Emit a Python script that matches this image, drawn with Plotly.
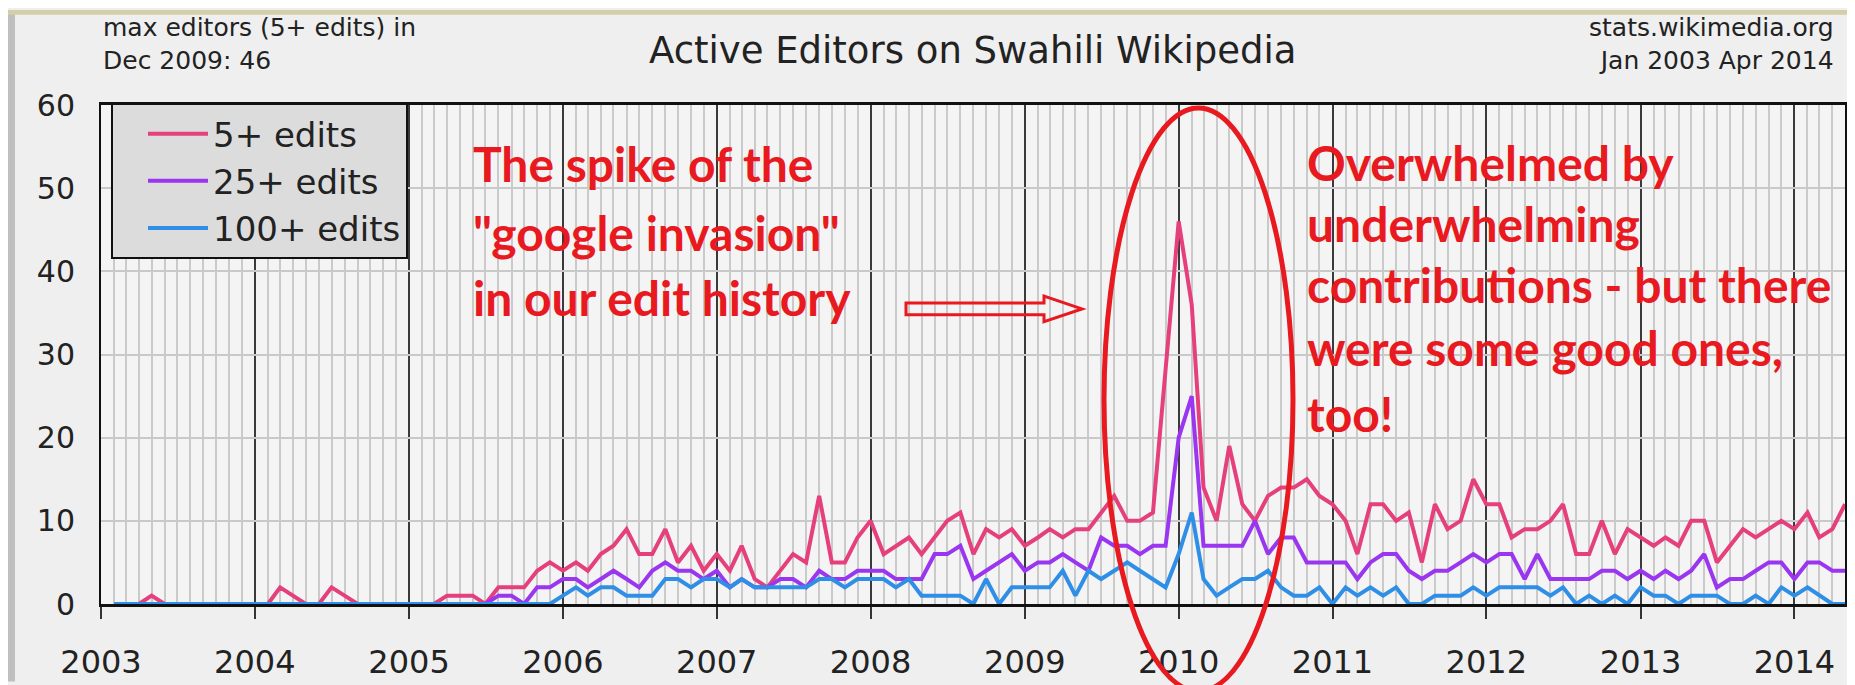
import pandas as pd
import plotly.graph_objects as go

# ---------------- data (monthly, Jan 2003 .. Apr 2014) ----------------
start_month = "2003-01-01"
n_months = 136
year_ticks = list(range(2003, 2015))

editors_5 = [
    0, 0, 0, 1, 0, 0, 0, 0, 0, 0, 0, 0,          # 2003
    0, 2, 1, 0, 0, 2, 1, 0, 0, 0, 0, 0,          # 2004
    0, 0, 1, 1, 1, 0, 2, 2, 2, 4, 5, 4,          # 2005
    5, 4, 6, 7, 9, 6, 6, 9, 5, 7, 4, 6,          # 2006
    4, 7, 3, 2, 4, 6, 5, 13, 5, 5, 8, 10,        # 2007
    6, 7, 8, 6, 8, 10, 11, 6, 9, 8, 9, 7,        # 2008
    8, 9, 8, 9, 9, 11, 13, 10, 10, 11, 28, 46,   # 2009
    36, 14, 10, 19, 12, 10, 13, 14, 14, 15, 13, 12,  # 2010
    10, 6, 12, 12, 10, 11, 5, 12, 9, 10, 15, 12,  # 2011
    12, 8, 9, 9, 10, 12, 6, 6, 10, 6, 9, 8,      # 2012
    7, 8, 7, 10, 10, 5, 7, 9, 8, 9, 10, 9,       # 2013
    11, 8, 9, 12,                                # 2014
]
editors_25 = [
    0, 0, 0, 0, 0, 0, 0, 0, 0, 0, 0, 0,
    0, 0, 0, 0, 0, 0, 0, 0, 0, 0, 0, 0,
    0, 0, 0, 0, 0, 0, 1, 1, 0, 2, 2, 3,
    3, 2, 3, 4, 3, 2, 4, 5, 4, 4, 3, 4,
    2, 3, 2, 2, 3, 3, 2, 4, 3, 3, 4, 4,
    4, 3, 3, 3, 6, 6, 7, 3, 4, 5, 6, 4,
    5, 5, 6, 5, 4, 8, 7, 7, 6, 7, 7, 20,
    25, 7, 7, 7, 7, 10, 6, 8, 8, 5, 5, 5,
    5, 3, 5, 6, 6, 4, 3, 4, 4, 5, 6, 5,
    6, 6, 3, 6, 3, 3, 3, 3, 4, 4, 3, 4,
    3, 4, 3, 4, 6, 2, 3, 3, 4, 5, 5, 3,
    5, 5, 4, 4,
]
editors_100 = [
    0, 0, 0, 0, 0, 0, 0, 0, 0, 0, 0, 0,
    0, 0, 0, 0, 0, 0, 0, 0, 0, 0, 0, 0,
    0, 0, 0, 0, 0, 0, 0, 0, 0, 0, 0, 1,
    2, 1, 2, 2, 1, 1, 1, 3, 3, 2, 3, 3,
    2, 3, 2, 2, 2, 2, 2, 3, 3, 2, 3, 3,
    3, 2, 3, 1, 1, 1, 1, 0, 3, 0, 2, 2,
    2, 2, 4, 1, 4, 3, 4, 5, 4, 3, 2, 6,
    11, 3, 1, 2, 3, 3, 4, 2, 1, 1, 2, 0,
    2, 1, 2, 1, 2, 0, 0, 1, 1, 1, 2, 1,
    2, 2, 2, 2, 1, 2, 0, 1, 0, 1, 0, 2,
    1, 1, 0, 1, 1, 1, 0, 0, 1, 0, 2, 1,
    2, 1, 0, 0,
]
series_names = ["5+ edits", "25+ edits", "100+ edits"]

# ---------------- styling ----------------
colors = ["#e53f7c", "#9a35f0", "#2f8fe6"]
RED = "#e8191f"
FONT = "DejaVu Sans"
W, H = 1855, 685
L, R, T, B = 93, 18, 97, 79
PW, PH = W - L - R, H - T - B


def px_x(px):
    return (px - L) / PW


def px_y(py):
    return (H - B - py) / PH


months = pd.date_range(start_month, periods=n_months, freq="MS")
x_pos = months + pd.DateOffset(months=1)   # monthly value drawn at month end

fig = go.Figure()
for name, vals, col in zip(series_names, [editors_5, editors_25, editors_100], colors):
    fig.add_trace(go.Scatter(x=x_pos, y=vals, mode="lines", name=name,
                             line=dict(color=col, width=4)))

fig.update_layout(
    width=W, height=H,
    margin=dict(l=L, r=R, t=T, b=B),
    paper_bgcolor="#efefef",
    plot_bgcolor="#f4f4f4",
    font=dict(family=FONT, color="#222"),
    showlegend=True,
    legend=dict(x=px_x(103), y=px_y(95), xanchor="left", yanchor="top",
                bgcolor="#dcdcdc", bordercolor="#111", borderwidth=2,
                itemwidth=60, indentation=30,
                font=dict(family=FONT, size=34, color="#222")),
)

fig.update_xaxes(
    type="date",
    range=[months[0], x_pos[-1]],
    tickvals=[pd.Timestamp(f"{y}-01-01") for y in year_ticks],
    ticktext=[str(y) for y in year_ticks],
    tickfont=dict(family=FONT, size=32, color="#222"),
    ticks="outside", ticklen=12, tickwidth=2, tickcolor="#333",
    ticklabelstandoff=16,
    showgrid=True, gridcolor="#3a3a3a", gridwidth=2,
    minor=dict(dtick="M1", showgrid=True, gridcolor="#cacaca", gridwidth=1.5),
    showline=True, linecolor="#111", linewidth=3, mirror=True,
    zeroline=False,
)
fig.update_yaxes(
    range=[0, 60], dtick=10,
    tickfont=dict(family=FONT, size=30, color="#222"),
    ticks="", ticklabelstandoff=18,
    showgrid=True, gridcolor="#c9c9c9", gridwidth=1.5,
    showline=True, linecolor="#111", linewidth=2, mirror=True,
    zeroline=True, zerolinecolor="#111", zerolinewidth=4,
)


def note(text, px, py, anchor, size, color="#222", family=FONT, weight="normal",
         yanchor="middle", align="left"):
    return dict(text=text, x=px_x(px), y=px_y(py), xref="paper", yref="paper",
                xanchor=anchor, yanchor=yanchor, showarrow=False, align=align,
                font=dict(family=family, size=size, color=color, weight=weight))


ann = [
    note("Active Editors on Swahili Wikipedia", 965, 41, "center", 37),
    note("max editors (5+ edits) in<br>Dec 2009: 46", 93, 1, "left", 25,
         yanchor="top", align="left"),
    note("stats.wikimedia.org<br>Jan 2003 Apr 2014", 1828, 1, "right", 25,
         yanchor="top", align="right"),
]

# red hand-made annotations
left_lines = ["The spike of the", "\"google invasion\"", "in our edit history"]
left_y = [157, 227, 293]
right_lines = ["Overwhelmed by", "underwhelming", "contributions - but there",
               "were some good ones,", "too!"]
right_y = [156, 218, 280, 344, 412]
for t, yy in zip(left_lines, left_y):
    ann.append(note(t, 463, yy, "left", 48, RED, "Lato", "bold"))
for t, yy in zip(right_lines, right_y):
    ann.append(note(t, 1297, yy, "left", 48, RED, "Lato", "bold"))
fig.update_layout(annotations=ann)

shapes = []
# ellipse around the spike
shapes.append(dict(type="circle", xref="paper", yref="paper",
                   x0=px_x(1096), x1=px_x(1285), y0=px_y(695), y1=px_y(100),
                   line=dict(color=RED, width=5)))
# hollow arrow
ay, bh, hh = 305, 6, 13
pts = [(898, ay - bh), (1036, ay - bh), (1036, ay - hh), (1074, ay),
       (1036, ay + hh), (1036, ay + bh), (898, ay + bh)]
path = "M " + " L ".join(f"{px_x(a):.5f},{px_y(b):.5f}" for a, b in pts) + " Z"
shapes.append(dict(type="path", xref="paper", yref="paper", path=path,
                   line=dict(color=RED, width=3)))
# screenshot frame strips
shapes.append(dict(type="rect", xref="paper", yref="paper", layer="above",
                   x0=px_x(0), x1=px_x(7), y0=px_y(H), y1=px_y(0),
                   fillcolor="#bfbfbf", line=dict(width=0)))
shapes.append(dict(type="rect", xref="paper", yref="paper", layer="above",
                   x0=px_x(0), x1=px_x(W), y0=px_y(5), y1=px_y(0),
                   fillcolor="#d3cfa6", line=dict(width=0)))
fig.update_layout(shapes=shapes)

fig.write_html("out.html")
